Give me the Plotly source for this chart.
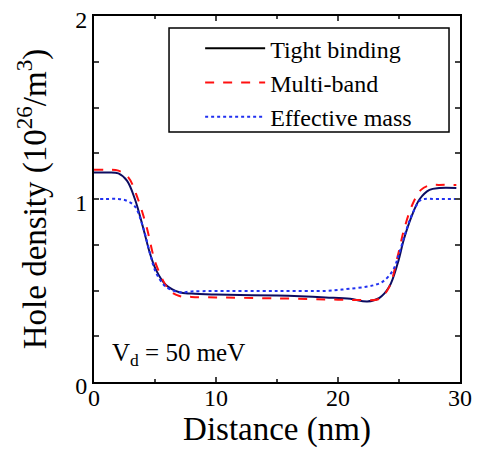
import plotly.graph_objects as go

# Tight binding
tb_x = [0, 1, 2, 2.7, 3.35, 4.0, 4.6, 5.1, 5.9, 7.0, 8, 10, 15, 19, 21, 22.4, 23.4, 24.2, 24.9, 25.4, 26.0, 26.7, 27.5, 28.3, 29.7]
tb_y = [1.145, 1.145, 1.14, 1.10, 1.0, 0.85, 0.70, 0.61, 0.53, 0.49, 0.483, 0.478, 0.472, 0.462, 0.455, 0.44, 0.46, 0.52, 0.65, 0.78, 0.90, 1.0, 1.05, 1.06, 1.06]

# Multi-band
mb_x = [0, 1, 2, 2.8, 3.6, 4.3, 5.1, 6.2, 7.0, 8, 10, 15, 20, 22, 23.4, 24.2, 24.9, 25.4, 26.1, 26.8, 27.5, 28.3, 29.7]
mb_y = [1.16, 1.16, 1.155, 1.12, 1.0, 0.85, 0.64, 0.50, 0.47, 0.465, 0.462, 0.457, 0.45, 0.448, 0.455, 0.52, 0.69, 0.83, 0.97, 1.05, 1.075, 1.077, 1.077]

# Effective mass
em_x = [0, 1, 2, 2.7, 3.35, 4.0, 4.6, 5.1, 5.9, 7.0, 8, 10, 15, 19, 20, 21, 22.3, 23.0, 23.7, 24.5, 25.0, 25.6, 26.1, 26.7, 27.1, 28, 29.7]
em_y = [1.0, 1.0, 1.0, 0.99, 0.96, 0.85, 0.70, 0.595, 0.52, 0.49, 0.495, 0.497, 0.497, 0.498, 0.503, 0.51, 0.52, 0.53, 0.55, 0.61, 0.70, 0.83, 0.92, 0.99, 1.0, 1.0, 1.0]

x_ticks = [0, 10, 20, 30]
y_ticks = [0, 1, 2]

FONT = "Liberation Serif"
NAVY = "#0c0c60"
RED = "#ff1010"
BLUE = "#2030f0"

fig = go.Figure()
fig.add_trace(go.Scatter(x=tb_x, y=tb_y, mode="lines", line=dict(color=NAVY, width=2, shape="spline"), showlegend=False))
fig.add_trace(go.Scatter(x=mb_x, y=mb_y, mode="lines", line=dict(color=RED, width=2, dash="dash", shape="spline"), showlegend=False))
fig.add_trace(go.Scatter(x=em_x, y=em_y, mode="lines", line=dict(color=BLUE, width=2, dash="dot", shape="spline"), showlegend=False))

# legend entries
fig.add_trace(go.Scatter(x=[None], y=[None], mode="lines", name="Tight binding", line=dict(color="black", width=2)))
fig.add_trace(go.Scatter(x=[None], y=[None], mode="lines", name="Multi-band", line=dict(color=RED, width=2, dash="dash")))
fig.add_trace(go.Scatter(x=[None], y=[None], mode="lines", name="Effective mass", line=dict(color=BLUE, width=2, dash="dot")))

fig.add_annotation(x=1.3, y=0.15, xref="x", yref="y", xanchor="left", yanchor="middle",
                   text="V<sub>d</sub> = 50 meV", showarrow=False, font=dict(family=FONT, size=25, color="black"))

# legend frame
fig.add_shape(type="rect", xref="paper", yref="paper", x0=0.205, x1=0.970, y0=0.683, y1=0.967,
              line=dict(color="black", width=1.5), fillcolor="white", layer="below")

# page body has an 8px default margin, so the figure is 8px smaller than the window
fig.update_layout(
    width=475, height=443,
    margin=dict(l=86, r=23, t=8, b=69),
    paper_bgcolor="white", plot_bgcolor="white",
    font=dict(family=FONT, color="black"),
    legend=dict(x=0.29, y=0.972, xanchor="left", yanchor="top",
                borderwidth=0, bgcolor="rgba(0,0,0,0)",
                font=dict(family=FONT, size=24), itemwidth=60,
                tracegroupgap=0),
)
fig.update_xaxes(range=[0, 30], tickvals=x_ticks, ticks="inside", ticklen=5, tickwidth=1.5,
                 minor=dict(dtick=5, ticks="inside", ticklen=3, tickwidth=1.5),
                 showline=True, linecolor="black", linewidth=2, mirror="allticks", showgrid=False, zeroline=False,
                 tickfont=dict(family=FONT, size=24), ticklabelstandoff=-7, automargin=False,
                 ticklabeloverflow="allow",
                 title=dict(text="Distance (nm)", font=dict(family=FONT, size=33), standoff=4))
fig.update_yaxes(range=[0, 2], tickvals=y_ticks, ticks="inside", ticklen=5, tickwidth=1.5,
                 minor=dict(dtick=0.25, ticks="inside", ticklen=5, tickwidth=1.5),
                 showline=True, linecolor="black", linewidth=2, mirror="allticks", showgrid=False, zeroline=False,
                 tickfont=dict(family=FONT, size=24), automargin=False, ticklabelshift=4,
                 ticklabeloverflow="allow",
                 title=dict(text="Hole density (10<sup>26</sup>/m<sup>3</sup>)", font=dict(family=FONT, size=33), standoff=19))

fig.write_html("out.html")
